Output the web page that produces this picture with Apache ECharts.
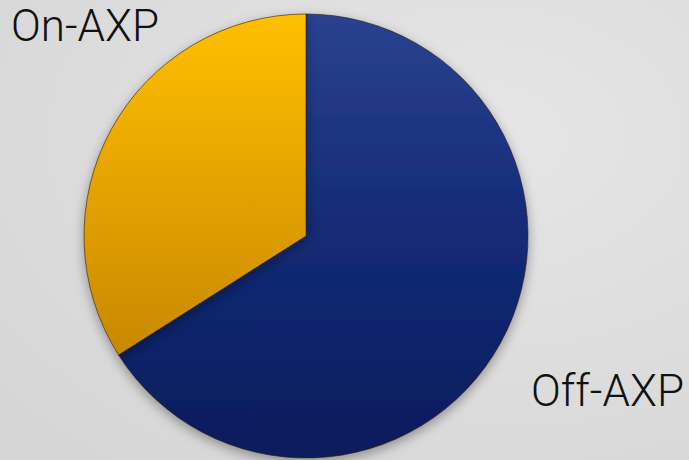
<!DOCTYPE html>
<html><head><meta charset="utf-8">
<script src="https://cdn.jsdelivr.net/npm/echarts@6/dist/echarts.min.js"></script>
<style>html,body{margin:0;padding:0;background:#dcdcdc;}#c{width:689px;height:460px;}</style>
</head><body><div id="c"></div>
<script>
const categories = ['Off-AXP', 'On-AXP'];
const values = [66, 34];

const colors = [
  {type:'linear',x:0,y:0,x2:0,y2:1,colorStops:[{offset:0,color:'#2a4290'},{offset:0.5,color:'#132a75'},{offset:1,color:'#0a1c5c'}]},
  {type:'linear',x:0,y:0,x2:0,y2:1,colorStops:[{offset:0,color:'#ffc000'},{offset:1,color:'#c98800'}]}
];
const labelPos = [
  {x: 684, y: 391, align: 'right', verticalAlign: 'middle'},
  {x: 11, y: 26, align: 'left', verticalAlign: 'middle'}
];

const chart = echarts.init(document.getElementById('c'), null, {renderer:'svg'});
chart.setOption({
  backgroundColor: {type:'radial',x:0.7,y:0.3,r:0.9,colorStops:[{offset:0,color:'#e6e6e6'},{offset:1,color:'#d6d6d6'}]},
  animation: false,
  series: [{
    type: 'pie',
    center: [306, 236],
    radius: [0, 222],
    startAngle: 90,
    clockwise: true,
    data: categories.map((n, i) => ({name: n, value: values[i], itemStyle: {color: colors[i]}})),
    itemStyle: {borderColor: 'rgba(40,30,10,0.6)', borderWidth: 1, shadowBlur: 12, shadowColor: 'rgba(0,0,0,0.35)', shadowOffsetY: 4},
    label: {show: true, formatter: '{b}', color: '#111', fontSize: 44, lineHeight: 44, fontFamily: 'Roboto', fontWeight: 300, overflow: 'none', width: 300},
    labelLine: {show: false},
    labelLayout: function (p) { return labelPos[p.dataIndex]; },
    emphasis: {disabled: true}
  }]
});
</script></body></html>
